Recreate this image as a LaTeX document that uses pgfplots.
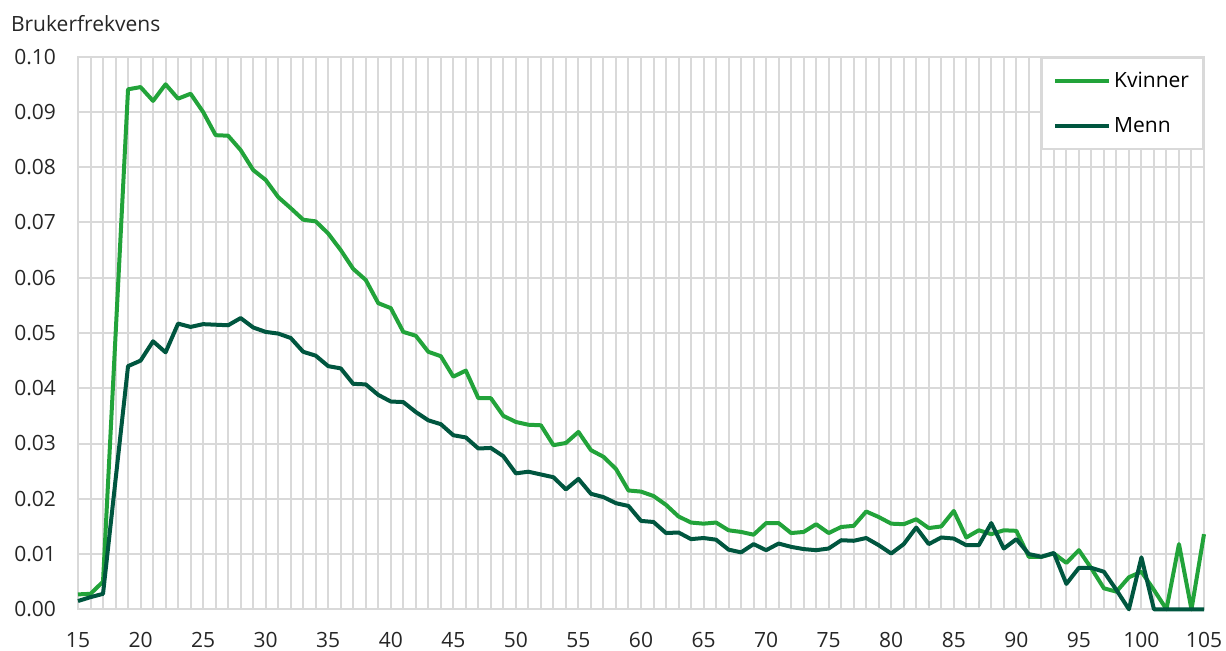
\documentclass[border=0pt]{standalone}
\usepackage{fontspec}
\setmainfont{Open Sans}
\usepackage{pgfplots}
\usepackage{pgfplotstable}
\pgfplotsset{compat=1.18}
\definecolor{kv}{HTML}{22A33A}
\definecolor{me}{HTML}{00563F}
\definecolor{gridc}{HTML}{D9D9D9}
\pgfplotstableread{
x y
15 0.0027
16 0.0028
17 0.0050
18 0.0495
19 0.0941
20 0.0945
21 0.0920
22 0.0950
23 0.0924
24 0.0933
25 0.0900
26 0.0858
27 0.0857
28 0.0831
29 0.0795
30 0.0777
31 0.0746
32 0.0726
33 0.0705
34 0.0702
35 0.0680
36 0.0650
37 0.0616
38 0.0596
39 0.0554
40 0.0545
41 0.0502
42 0.0495
43 0.0466
44 0.0458
45 0.0421
46 0.0432
47 0.0382
48 0.0382
49 0.0350
50 0.0339
51 0.0334
52 0.0333
53 0.0297
54 0.0301
55 0.0321
56 0.0288
57 0.0276
58 0.0254
59 0.0215
60 0.0213
61 0.0205
62 0.0189
63 0.0168
64 0.0157
65 0.0155
66 0.0157
67 0.0143
68 0.0140
69 0.0135
70 0.0156
71 0.0156
72 0.0138
73 0.0140
74 0.0154
75 0.0138
76 0.0149
77 0.0151
78 0.0177
79 0.0167
80 0.0155
81 0.0154
82 0.0163
83 0.0147
84 0.0150
85 0.0178
86 0.0130
87 0.0143
88 0.0136
89 0.0143
90 0.0142
91 0.0095
92 0.0095
93 0.0101
94 0.0084
95 0.0107
96 0.0074
97 0.0038
98 0.0032
99 0.0058
100 0.0068
101 0.0035
102 0.0000
103 0.0118
104 0.0000
105 0.0136
}\kvinner
\pgfplotstableread{
x y
15 0.0015
16 0.0022
17 0.0028
18 0.0234
19 0.0440
20 0.0450
21 0.0485
22 0.0465
23 0.0517
24 0.0511
25 0.0516
26 0.0515
27 0.0514
28 0.0527
29 0.0510
30 0.0502
31 0.0499
32 0.0491
33 0.0466
34 0.0459
35 0.0440
36 0.0436
37 0.0408
38 0.0407
39 0.0388
40 0.0376
41 0.0375
42 0.0357
43 0.0342
44 0.0335
45 0.0315
46 0.0311
47 0.0291
48 0.0292
49 0.0277
50 0.0246
51 0.0249
52 0.0244
53 0.0239
54 0.0217
55 0.0236
56 0.0209
57 0.0203
58 0.0192
59 0.0187
60 0.0160
61 0.0158
62 0.0138
63 0.0139
64 0.0127
65 0.0129
66 0.0126
67 0.0108
68 0.0103
69 0.0118
70 0.0107
71 0.0119
72 0.0113
73 0.0109
74 0.0107
75 0.0110
76 0.0125
77 0.0124
78 0.0129
79 0.0116
80 0.0101
81 0.0118
82 0.0148
83 0.0118
84 0.0130
85 0.0128
86 0.0116
87 0.0116
88 0.0156
89 0.0110
90 0.0127
91 0.0100
92 0.0095
93 0.0102
94 0.0046
95 0.0075
96 0.0075
97 0.0068
98 0.0035
99 0.0000
100 0.0094
101 0.0000
102 0.0000
103 0.0000
104 0.0000
105 0.0000
}\menn
\begin{document}
\begin{tikzpicture}
\begin{axis}[
  scale only axis,
  width=563pt, height=276.3pt,
  xmin=15, xmax=105, ymin=0, ymax=0.1,
  xtick={15,20,...,105},
  minor x tick num=4,
  ytick={0,0.01,...,0.1},
  grid=both,
  major grid style={gridc, line width=1pt},
  minor grid style={gridc, line width=1pt},
  axis line style={gridc, line width=1pt},
  major tick length=0pt, minor tick length=0pt,
  tick style={draw=none},
  clip=false,
  font=\fontsize{10.5}{12}\selectfont,
  ticklabel style={font=\fontsize{10.5}{12}\selectfont, text=black!85},
  /pgf/number format/assume math mode=true,
  yticklabel style={/pgf/number format/.cd, fixed, fixed zerofill, precision=2, /tikz/.cd, xshift=-7.5pt},
  xticklabel style={yshift=-8pt},
  scaled y ticks=false,
  legend cell align=left,
  legend image code/.code={\draw[#1, line width=2pt] (0pt,0pt) -- (27pt,0pt);},
  legend style={at={(1,1)}, anchor=north east, draw=gridc, line width=1pt, fill=white,
    inner xsep=5.5pt, inner ysep=5pt, row sep=9.5pt,
    font=\fontsize{10.5}{12}\selectfont,
    nodes={inner xsep=1.5pt}},
]
\addplot[kv, line width=2pt, line join=round] table {\kvinner};
\addlegendentry{Kvinner}
\addplot[me, line width=2pt, line join=round] table {\menn};
\addlegendentry{Menn}
\coordinate (sw) at (rel axis cs:0,0);
\node[anchor=west, font=\fontsize{10.5}{12}\selectfont, text=black!85] at (rel axis cs:0,1) [xshift=-37pt, yshift=16.4pt] {Brukerfrekvens};
\end{axis}
\pgfresetboundingbox
\path (sw) ++(-39pt,-20.35pt) rectangle ++(613pt,325pt);
\end{tikzpicture}
\end{document}
